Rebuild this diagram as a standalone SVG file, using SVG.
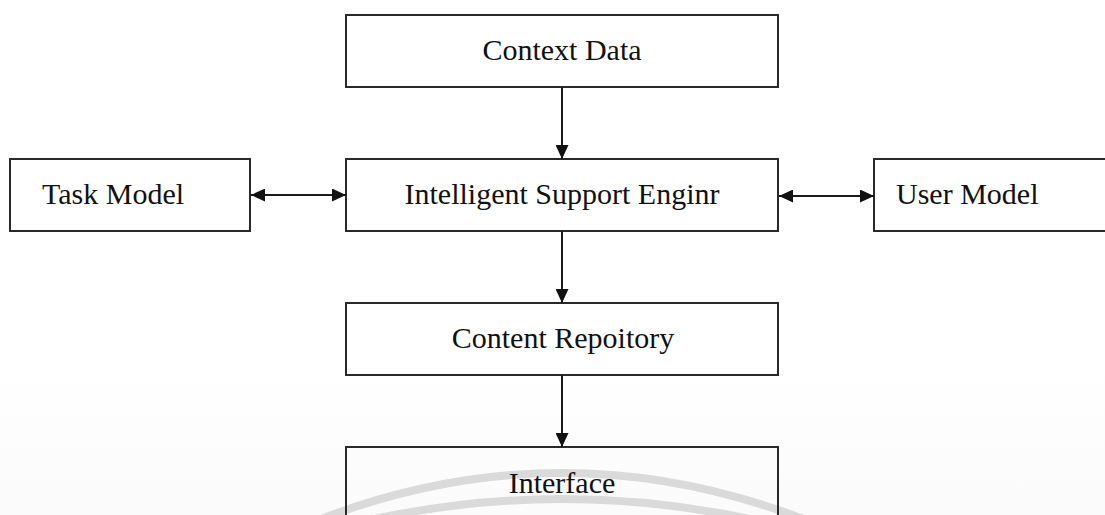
<svg xmlns="http://www.w3.org/2000/svg" width="1105" height="515" viewBox="0 0 1105 515">
<style>
.box{fill:#fff;stroke:#2a2a2a;stroke-width:2}
.lbl{font-family:"Liberation Serif","Times New Roman",serif;font-size:30px;fill:#111}
.c{text-anchor:middle}
.edge{stroke:#1a1a1a;stroke-width:2;fill:none}
.wm{fill:none;stroke:#dadada;stroke-width:8}
</style>
<defs>
<marker id="ah" viewBox="0 0 14 13" refX="14" refY="6.5" markerWidth="14" markerHeight="13" markerUnits="userSpaceOnUse" orient="auto-start-reverse">
<path d="M0,0 L14,6.5 L0,13 z" fill="#111"/>
</marker>
<linearGradient id="bg" x1="0" y1="0" x2="0" y2="1">
<stop offset="0" stop-color="#ffffff"/>
<stop offset="1" stop-color="#fbfbfb"/>
</linearGradient>
</defs>
<rect x="0" y="0" width="1105" height="515" fill="#fff"/>
<rect x="0" y="360" width="1105" height="155" fill="url(#bg)"/>
<g id="watermark">
<path class="wm" d="M313 522 Q562 424 811 522"/>
<path class="wm" d="M352 524 Q562 474 772 524"/>
</g>
<g id="context-data">
<rect class="box" x="346" y="15" width="432" height="72"/>
<text class="lbl c" x="562" y="60">Context Data</text>
</g>
<g id="task-model">
<rect class="box" x="10" y="159" width="240" height="72"/>
<text class="lbl" x="42" y="204">Task Model</text>
</g>
<g id="engine">
<rect class="box" x="346" y="159" width="432" height="72"/>
<text class="lbl c" x="562" y="204">Intelligent Support Enginr</text>
</g>
<g id="user-model">
<rect class="box" x="874" y="159" width="250" height="72"/>
<text class="lbl" x="896" y="204">User Model</text>
</g>
<g id="content-repository">
<rect class="box" x="346" y="303" width="432" height="72"/>
<text class="lbl c" x="563" y="348">Content Repoitory</text>
</g>
<g id="interface">
<rect class="box" x="346" y="447" width="432" height="100" style="fill:none"/>
<text class="lbl c" x="562" y="493">Interface</text>
</g>
<g id="connectors">
<line class="edge" x1="562" y1="87" x2="562" y2="159" marker-end="url(#ah)"/>
<line class="edge" x1="562" y1="231" x2="562" y2="303" marker-end="url(#ah)"/>
<line class="edge" x1="562" y1="375" x2="562" y2="447" marker-end="url(#ah)"/>
<line class="edge" x1="251" y1="195" x2="346" y2="195" marker-start="url(#ah)" marker-end="url(#ah)"/>
<line class="edge" x1="779" y1="196" x2="874" y2="196" marker-start="url(#ah)" marker-end="url(#ah)"/>
</g>
</svg>
